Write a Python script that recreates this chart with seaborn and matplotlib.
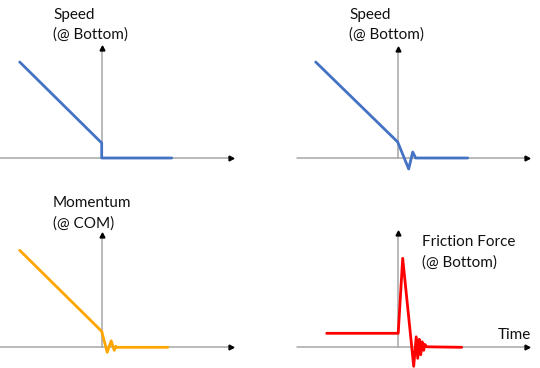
import matplotlib
matplotlib.use("Agg")
import matplotlib.pyplot as plt
import seaborn as sns

# traces (time, value), origin where the axes cross
speed1_t = [-8.2, 0.0, 0.0, 7.0]
speed1_v = [9.6, 1.5, 0.0, 0.0]

speed2_t = [-8.2, 0.0, 1.1, 1.5, 1.8, 7.0]
speed2_v = [9.6, 1.6, -1.1, 0.6, 0.0, 0.0]

momentum_t = [-8.2, 0.0, 0.55, 0.95, 1.25, 1.4, 1.5, 6.6]
momentum_v = [9.7, 1.6, -0.5, 0.65, -0.3, 0.1, 0.0, 0.0]

friction_t = [-7.1, 0.05, 0.5, 1.6, 1.85, 2.0, 2.15, 2.3, 2.45, 2.6, 2.7, 2.9, 6.4]
friction_v = [1.4, 1.4, 8.9, -1.9, 1.05, -1.1, 0.8, -0.75, 0.55, -0.3, 0.3, 0.05, 0.0]

titles = [["Speed", "(@ Bottom)"], ["Speed", "(@ Bottom)"],
          ["Momentum", "(@ COM)"], ["Friction Force", "(@ Bottom)"]]
xlabel = "Time"

sns.set_style("white")
plt.rcParams["font.family"] = ["Lato", "DejaVu Sans"]

AXIS_GRAY = "#A6A6A6"
TXT = "#111111"


def drawPanel(fig, rect, xlim, ylim, t, v, color, xspan, ytop, title, titlePos):
    ax = fig.add_axes(rect)
    ax.set_xlim(*xlim)
    ax.set_ylim(*ylim)
    ax.set_axis_off()
    # axes drawn as arrows: gray shaft, black head
    ax.plot(xspan, [0, 0], color=AXIS_GRAY, lw=1.1, zorder=1)
    ax.plot([0, 0], [0, ytop], color=AXIS_GRAY, lw=1.1, zorder=1)
    ax.plot(xspan[1], 0, marker=">", color="black", ms=3.5, zorder=2)
    ax.plot(0, ytop, marker="^", color="black", ms=3.5, zorder=2)
    sns.lineplot(x=t, y=v, sort=False, estimator=None, color=color,
                 linewidth=2.0, ax=ax, zorder=3)
    x0, y0 = titlePos
    ax.text(x0, y0, title[0], fontsize=11, va="center", ha="left", color=TXT)
    ax.text(x0, y0 - 2.0, title[1], fontsize=11, va="center", ha="left", color=TXT)
    return ax


fig = plt.figure(figsize=(5.4, 3.68), dpi=100)

drawPanel(fig, [0, 0.5, 0.5, 0.5], (-10.17, 16.83), (-2.6, 15.8),
          speed1_t, speed1_v, "#4472C4", [-10.2, 12.9], 11.0, titles[0], (-4.87, 14.3))
drawPanel(fig, [0.5, 0.5, 0.5, 0.5], (-12.77, 14.23), (-2.6, 15.8),
          speed2_t, speed2_v, "#4472C4", [-10.1, 12.9], 10.9, titles[1], (-4.87, 14.3))
drawPanel(fig, [0, 0, 0.5, 0.5], (-10.17, 16.83), (-2.07, 16.33),
          momentum_t, momentum_v, "#FFA500", [-10.2, 12.9], 11.2, titles[2], (-4.87, 14.4))
ax4 = drawPanel(fig, [0.5, 0, 0.5, 0.5], (-12.77, 14.23), (-2.07, 16.33),
                friction_t, friction_v, "#FF0000", [-10.1, 12.9], 11.4, titles[3], (2.46, 10.5))
ax4.text(10.0, 1.26, xlabel, fontsize=11, va="center", ha="left", color=TXT)

fig.savefig("out.png", dpi=100)
